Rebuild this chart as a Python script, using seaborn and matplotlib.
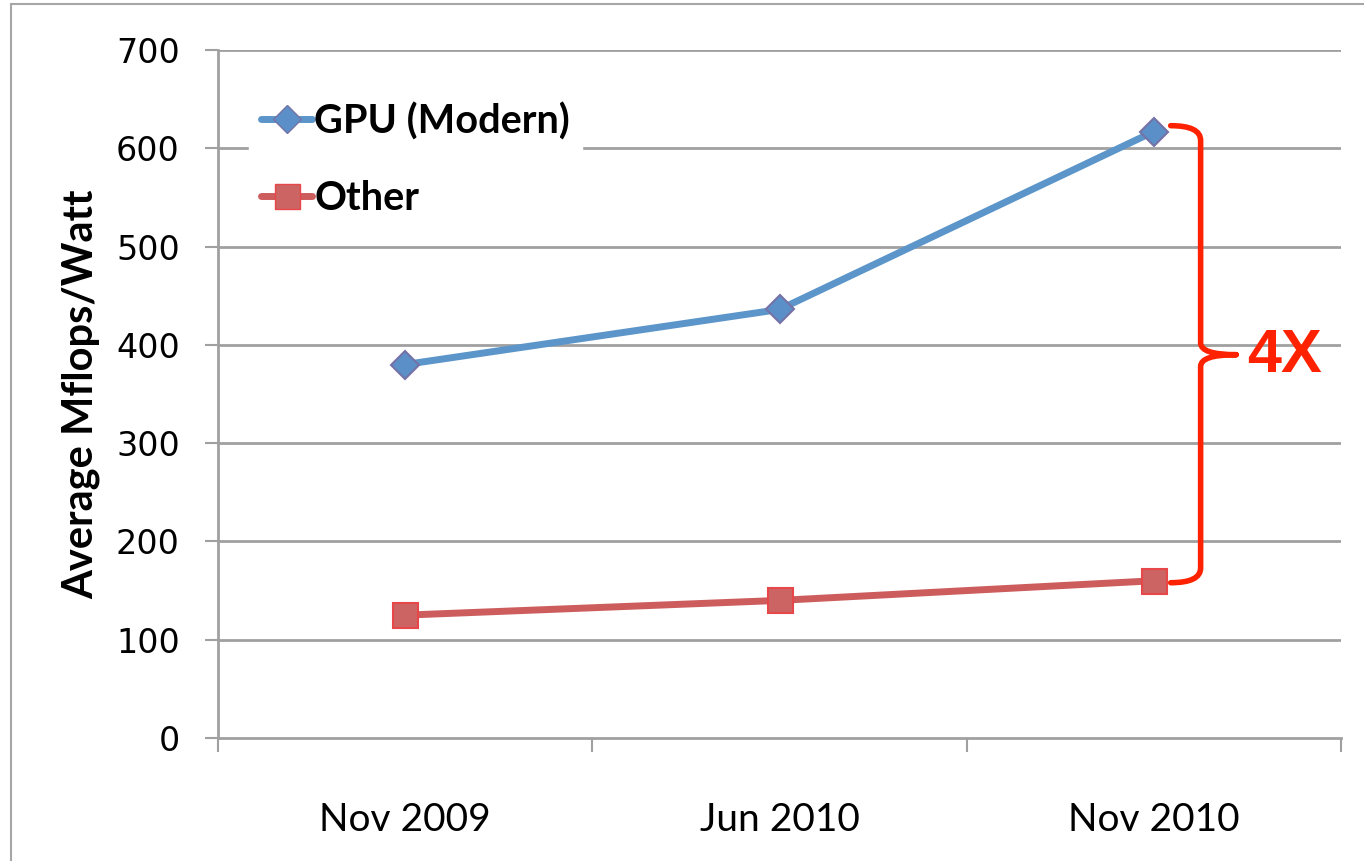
import numpy as np
import pandas as pd
import seaborn as sns
import matplotlib.pyplot as plt
from matplotlib.path import Path
from matplotlib.patches import PathPatch, Rectangle
from matplotlib.lines import Line2D

# data
periods = ['Nov 2009', 'Jun 2010', 'Nov 2010']
gpu_values = [380, 436, 617]
other_values = [125, 140, 160]
series_names = ['GPU (Modern)', 'Other']
y_ticks = [0, 100, 200, 300, 400, 500, 600, 700]

sns.set_style("white")
plt.rcParams['font.family'] = ['Lato', 'DejaVu Sans']
plt.rcParams['text.color'] = 'black'

df = pd.DataFrame({
    'period': periods * 2,
    'value': gpu_values + other_values,
    'series': [series_names[0]] * 3 + [series_names[1]] * 3,
})
df['x'] = df['period'].map({p: i for i, p in enumerate(periods)})

fig = plt.figure(figsize=(13.64, 8.61), dpi=100)
ax = fig.add_axes([218 / 1364, 1 - 738 / 861, (1341 - 218) / 1364, (738 - 50) / 861])

# light frame around the whole chart
fig.patches.append(Rectangle((11 / 1364, -0.1), 1.2, 1.1 - 4 / 861, transform=fig.transFigure,
                             fill=False, edgecolor='#a6a6a6', linewidth=1.5, zorder=0))

grid_c = '#a0a0a0'
for v in y_ticks[1:]:
    ax.axhline(v, color=grid_c, linewidth=2, zorder=1)

gpu_line = '#5b95c9'
oth_line = '#cd5c5c'
sns.lineplot(data=df[df['series'] == series_names[0]], x='x', y='value', ax=ax,
             color=gpu_line, linewidth=5, marker='D', markersize=14,
             markerfacecolor='#5b8fc8', markeredgecolor='#7472a6', markeredgewidth=1.5, zorder=3)
sns.lineplot(data=df[df['series'] == series_names[1]], x='x', y='value', ax=ax,
             color=oth_line, linewidth=5, marker='s', markersize=18,
             markerfacecolor='#cc6464', markeredgecolor='#e8474a', markeredgewidth=1.5, zorder=3)

ax.set_xlim(-0.5, 2.5)
ax.set_ylim(0, 700)
ax.set_yticks(y_ticks)
ax.set_yticklabels([str(v) for v in y_ticks], fontsize=24, family='DejaVu Sans', color='black')
ax.set_xticks([0, 1, 2])
ax.set_xticklabels(periods, fontsize=28, color='black')
ax.set_xticks([-0.5, 0.5, 1.5, 2.5], minor=True)
ax.tick_params(axis='x', which='major', bottom=False, length=0, pad=46)
ax.tick_params(axis='x', which='minor', bottom=True, length=10, width=1.5, color=grid_c, direction='out')
ax.tick_params(axis='y', left=True, length=9.5, width=1.5, color=grid_c, direction='out', pad=18)
ax.set_xlabel('')
ax.set_ylabel('Average Mflops/Watt', fontsize=30, fontweight='bold', color='black', labelpad=11)
for s in ['top', 'right']:
    ax.spines[s].set_visible(False)
for s in ['left', 'bottom']:
    ax.spines[s].set_color(grid_c)
    ax.spines[s].set_linewidth(2)

# legend
handles = [
    Line2D([0], [0], color=gpu_line, linewidth=5, marker='D', markersize=14,
           markerfacecolor='#5b8fc8', markeredgecolor='#7472a6'),
    Line2D([0], [0], color=oth_line, linewidth=5, marker='s', markersize=18,
           markerfacecolor='#cc6464', markeredgecolor='#e8474a'),
]
leg = ax.legend(handles, series_names, loc='upper left', bbox_to_anchor=(0.01, 0.97),
                frameon=True, framealpha=1, edgecolor='white', fancybox=False,
                prop={'size': 28.5, 'weight': 'bold'}, handlelength=1.3, handletextpad=0.05,
                labelspacing=1.0, borderpad=0.3)
leg.set_zorder(2)

# brace marking the 4X gap
red = '#ff2200'
x0, x1, xm = 2.045, 2.125, 2.22
yt, yb, ym = 623, 158, 390
verts = [(x0, yt), (x1, yt), (x1, yt - 15),
         (x1, ym + 12), (x1, ym), (xm, ym),
         (xm, ym), (x1, ym), (x1, ym - 12),
         (x1, yb + 15), (x1, yb), (x0, yb)]
codes = [Path.MOVETO, Path.CURVE3, Path.CURVE3,
         Path.LINETO, Path.CURVE3, Path.CURVE3,
         Path.MOVETO, Path.CURVE3, Path.CURVE3,
         Path.LINETO, Path.CURVE3, Path.CURVE3]
ax.add_patch(PathPatch(Path(verts, codes), fill=False, edgecolor=red, linewidth=4,
                       capstyle='round', joinstyle='round', zorder=4, clip_on=False))
ax.text(2.248, 388, '4X', color=red, fontsize=44, fontweight='bold', ha='left', va='center',
        family='Liberation Sans', zorder=4)

fig.savefig('out.png', dpi=100)
